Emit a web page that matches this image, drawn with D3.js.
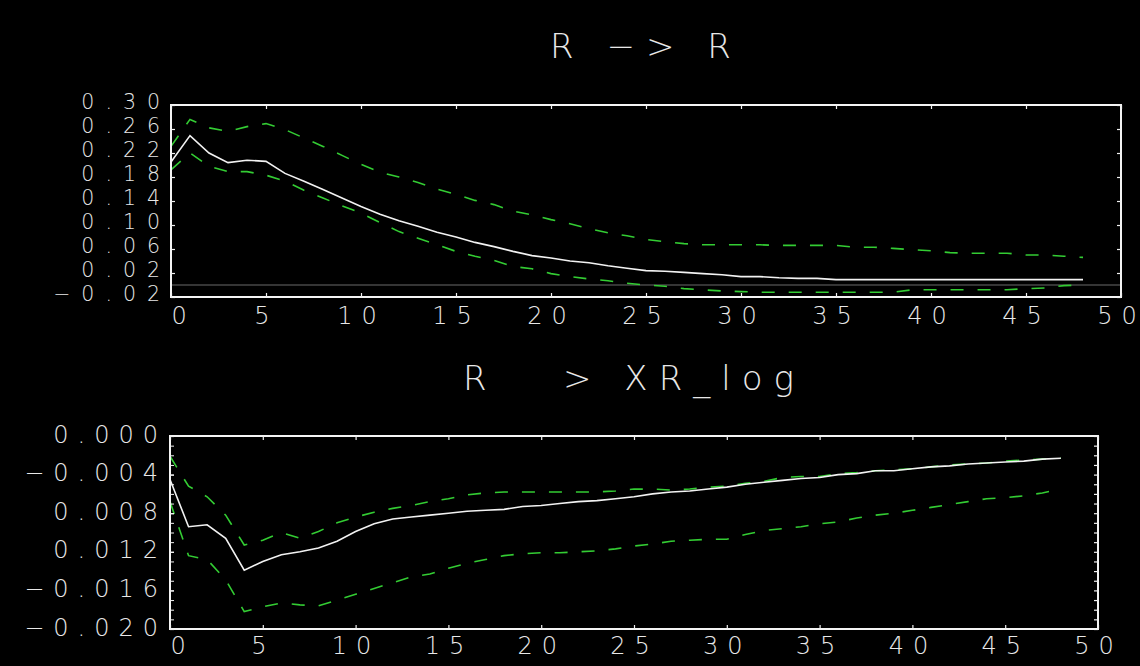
<!DOCTYPE html>
<html>
<head>
<meta charset="utf-8">
<script src="https://cdn.jsdelivr.net/npm/d3@7"></script>
<style>
  body { margin: 0; background: #000; }
  svg { display: block; }
</style>
</head>
<body>
<div id="chart"></div>
<script>
// horizons (x categories)
var horizon = [0,1,2,3,4,5,6,7,8,9,10,11,12,13,14,15,16,17,18,19,20,21,22,23,24,
  25,26,27,28,29,30,31,32,33,34,35,36,37,38,39,40,41,42,43,44,45,46,47,48];

// R -> R : response and bands
var rrMid = [0.205,0.249,0.220,0.204,0.208,0.206,0.186,0.173,0.159,0.145,0.131,0.118,0.107,
  0.098,0.088,0.080,0.071,0.064,0.056,0.049,0.045,0.040,0.037,0.032,0.028,0.024,0.023,0.021,
  0.019,0.017,0.014,0.014,0.012,0.011,0.011,0.009,0.009,0.009,0.009,0.009,0.009,0.009,0.009,
  0.009,0.009,0.009,0.009,0.009,0.009];
var rrHi = [0.231,0.276,0.262,0.256,0.264,0.269,0.259,0.245,0.231,0.216,0.201,0.188,0.180,
  0.171,0.160,0.151,0.141,0.134,0.123,0.117,0.109,0.102,0.094,0.087,0.082,0.076,0.072,0.069,
  0.067,0.067,0.067,0.067,0.066,0.066,0.066,0.066,0.063,0.063,0.061,0.059,0.057,0.054,0.053,
  0.053,0.053,0.050,0.050,0.048,0.046];
var rrLo = [0.192,0.220,0.198,0.189,0.189,0.183,0.173,0.158,0.145,0.132,0.120,0.104,0.089,
  0.078,0.067,0.056,0.048,0.041,0.031,0.027,0.019,0.014,0.010,0.007,0.003,0.000,-0.002,-0.006,
  -0.008,-0.010,-0.011,-0.012,-0.012,-0.012,-0.012,-0.012,-0.012,-0.012,-0.012,-0.008,-0.008,
  -0.008,-0.008,-0.008,-0.008,-0.006,-0.005,-0.001,0.000];

// R -> XR_log : response and bands
var rxMid = [-0.0045,-0.0094,-0.0092,-0.0106,-0.0139,-0.0130,-0.0123,-0.0120,-0.0116,-0.0109,
  -0.0099,-0.0091,-0.0086,-0.0084,-0.0082,-0.0080,-0.0078,-0.0077,-0.0076,-0.0073,-0.0072,
  -0.0070,-0.0068,-0.0067,-0.0065,-0.0063,-0.0060,-0.0058,-0.0057,-0.0055,-0.0053,-0.0050,
  -0.0048,-0.0046,-0.0044,-0.0043,-0.0040,-0.0039,-0.0036,-0.0036,-0.0034,-0.0032,-0.0031,
  -0.0029,-0.0028,-0.0027,-0.0026,-0.0024,-0.0023];
var rxHi = [-0.0021,-0.0052,-0.0063,-0.0082,-0.0113,-0.0108,-0.0100,-0.0106,-0.0099,-0.0090,
  -0.0084,-0.0079,-0.0075,-0.0072,-0.0068,-0.0065,-0.0061,-0.0059,-0.0058,-0.0058,-0.0058,
  -0.0058,-0.0058,-0.0058,-0.0057,-0.0055,-0.0055,-0.0056,-0.0055,-0.0053,-0.0052,-0.0049,
  -0.0047,-0.0043,-0.0042,-0.0042,-0.0039,-0.0038,-0.0036,-0.0035,-0.0034,-0.0032,-0.0030,
  -0.0029,-0.0028,-0.0026,-0.0025,-0.0024,-0.0023];
var rxLo = [-0.0068,-0.0124,-0.0128,-0.0149,-0.0182,-0.0177,-0.0173,-0.0175,-0.0176,-0.0170,
  -0.0164,-0.0158,-0.0152,-0.0146,-0.0143,-0.0137,-0.0132,-0.0128,-0.0124,-0.0122,-0.0121,
  -0.0121,-0.0120,-0.0119,-0.0117,-0.0114,-0.0112,-0.0109,-0.0108,-0.0107,-0.0107,-0.0102,
  -0.0098,-0.0096,-0.0094,-0.0091,-0.0089,-0.0085,-0.0082,-0.0080,-0.0077,-0.0074,-0.0071,
  -0.0068,-0.0065,-0.0064,-0.0062,-0.0059,-0.0055];

// ticks and labels
var xTicks = [0,5,10,15,20,25,30,35,40,45,50];
var xTickLabels = ['0','5','10','15','20','25','30','35','40','45','50'];
var rrTicks = [0.30,0.26,0.22,0.18,0.14,0.10,0.06,0.02,-0.02];
var rrTickLabels = ['0.30','0.26','0.22','0.18','0.14','0.10','0.06','0.02','\u22120.02'];
var rxTicks = [0,-0.004,-0.008,-0.012,-0.016,-0.020];
var rxTickLabels = ['0.000','\u22120.004','0.008','0.012','\u22120.016','\u22120.020'];
var rxMinorTicks = [0,-0.001,-0.002,-0.003,-0.004,-0.005,-0.006,-0.007,-0.008,-0.009,-0.010,
  -0.011,-0.012,-0.013,-0.014,-0.015,-0.016,-0.017,-0.018,-0.019,-0.020];
var titles = ['R \u2212> R', 'R   > XR_log'];

var width = 1140
var height = 666
var green = '#33cc33'
var font = "'DejaVu Sans', sans-serif"

var svg = d3.select('#chart')
    .append('svg')
    .attr('width', width)
    .attr('height', height);

svg.append('rect')
    .attr('width', width)
    .attr('height', height)
    .attr('fill', '#000');

function styleText(sel, size, spacing){
    sel.attr('font-family', font)
        .attr('font-weight', 200)
        .attr('font-size', size)
        .attr('letter-spacing', spacing)
        .attr('fill', '#e8e8e8');
}

function panel(p){
    var g = svg.append('g');

    var x = d3.scaleLinear().domain([0, 50]).range([p.left, p.right]);
    var y = d3.scaleLinear().domain(p.yDomain).range([p.bottom, p.top]);

    // title
    var t = g.append('text')
        .attr('x', (p.left + p.right) / 2)
        .attr('y', p.titleY)
        .attr('text-anchor', 'middle')
        .attr('xml:space', 'preserve')
        .style('white-space', 'pre')
        .text(p.title);
    styleText(t, 34, 11);

    // zero line
    if (p.zeroLine){
        g.append('line')
            .attr('x1', x(0)).attr('x2', x(50))
            .attr('y1', y(0)).attr('y2', y(0))
            .attr('stroke', '#6b6b6b')
            .attr('stroke-width', 1.2);
    }

    var line = d3.line()
        .x((d, i) => x(horizon[i]))
        .y((d) => y(d));

    // confidence bands (dashed green) and response (white)
    [p.lo, p.hi].forEach(function(s){
        g.append('path')
            .attr('d', line(s))
            .attr('fill', 'none')
            .attr('stroke', green)
            .attr('stroke-width', 1.6)
            .attr('stroke-dasharray', '13,14');
    });
    g.append('path')
        .attr('d', line(p.mid))
        .attr('fill', 'none')
        .attr('stroke', '#f2f2f2')
        .attr('stroke-width', 1.6);

    // frame
    g.append('rect')
        .attr('x', p.left).attr('y', p.top)
        .attr('width', p.right - p.left)
        .attr('height', p.bottom - p.top)
        .attr('fill', 'none')
        .attr('stroke', '#f4f4f4')
        .attr('stroke-width', 2);

    // axes, ticks pointing inwards
    var xb = g.append('g')
        .attr('transform', 'translate(0,' + p.bottom + ')')
        .call(d3.axisBottom(x).tickValues(xTicks)
            .tickFormat((d, i) => xTickLabels[i]).tickSize(-4).tickPadding(p.xPad));
    var xt = g.append('g')
        .attr('transform', 'translate(0,' + p.top + ')')
        .call(d3.axisTop(x).tickValues(xTicks).tickFormat('').tickSize(-4));

    var yl = g.append('g')
        .attr('transform', 'translate(' + p.left + ',0)')
        .call(d3.axisLeft(y).tickValues(p.ticks)
            .tickFormat((d, i) => p.tickLabels[i]).tickSize(-4).tickPadding(p.yPad));
    var yr = g.append('g')
        .attr('transform', 'translate(' + p.right + ',0)')
        .call(d3.axisRight(y).tickValues(p.minor).tickFormat('').tickSize(-4));
    if (p.minor !== p.ticks){
        g.append('g')
            .attr('transform', 'translate(' + p.left + ',0)')
            .call(d3.axisLeft(y).tickValues(p.minor).tickFormat('').tickSize(-4))
            .call((a) => a.select('.domain').remove())
            .selectAll('line').attr('stroke', '#f0f0f0');
    }

    [xb, xt, yl, yr].forEach(function(a){
        a.select('.domain').remove();
        a.selectAll('.tick line').attr('stroke', '#f0f0f0').attr('stroke-width', 1.2);
    });

    styleText(xb.selectAll('text'), 24, 9);
    xb.selectAll('text').filter((d) => d === 0).attr('text-anchor', 'start');
    styleText(yl.selectAll('text'), p.ySize, p.ySpacing);
    yl.selectAll('text').attr('dy', p.yDy);
}

panel({
    left: 171, right: 1121, top: 105, bottom: 297,
    yDomain: [-0.02, 0.30],
    mid: rrMid, hi: rrHi, lo: rrLo,
    ticks: rrTicks, tickLabels: rrTickLabels, minor: rrTicks,
    title: titles[0], titleY: 58, zeroLine: true,
    xPad: 10, yPad: 0, ySize: 20.5, ySpacing: 11, yDy: 3
});

panel({
    left: 170, right: 1098, top: 436, bottom: 629,
    yDomain: [-0.020, 0],
    mid: rxMid, hi: rxHi, lo: rxLo,
    ticks: rxTicks, tickLabels: rxTickLabels, minor: rxMinorTicks,
    title: titles[1], titleY: 390, zeroLine: false,
    xPad: 8, yPad: 3, ySize: 24, ySpacing: 9, yDy: 6
});
</script>
</body>
</html>
